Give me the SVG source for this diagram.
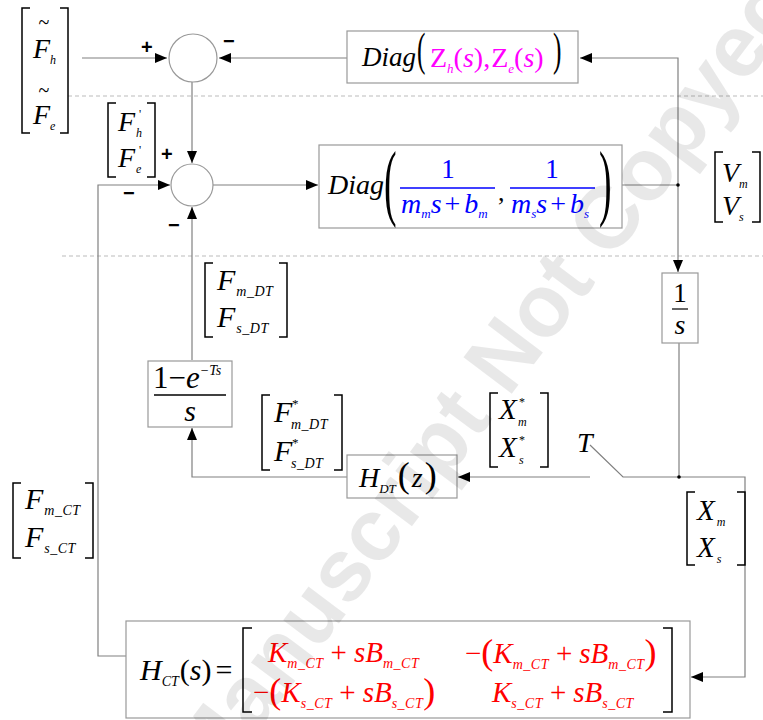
<svg xmlns="http://www.w3.org/2000/svg" width="763" height="720" viewBox="0 0 763 720">
<style>
.ln{stroke:#808080;stroke-width:1.2;fill:none}
.box{fill:none;stroke:#999;stroke-width:1.2}
.br{stroke:#000;stroke-width:1.5;fill:none}
.dash{stroke:#bbb;stroke-width:1.2;stroke-dasharray:4 3;fill:none}
.t{font-family:'Liberation Serif','Times New Roman','DejaVu Serif',serif;font-style:italic;fill:#000}
.u{font-style:normal}
.mg{fill:#ff00ff}
.bl{fill:#0000ff}
.rd{fill:#ff0000}
.sb{font-size:14px;letter-spacing:0.5px}
.sg{font-family:'Liberation Sans',sans-serif;font-weight:bold;font-size:20px;fill:#000}
.wm{font-family:'Liberation Sans',sans-serif;font-weight:bold;font-size:88px;fill:#000;fill-opacity:0.09}
</style>
<defs>
<marker id="ah" markerUnits="userSpaceOnUse" markerWidth="12" markerHeight="10" refX="12" refY="5" orient="auto">
<path d="M0,0 L12,5 L0,10 z" fill="#000"/>
</marker>
</defs>
<rect width="763" height="720" fill="#fff"/>

<g id="separators">
<line class="dash" x1="68" y1="96" x2="763" y2="96"/>
<line class="dash" x1="62" y1="256" x2="763" y2="256"/>
</g>

<g id="connectors">
<path class="ln" d="M82,58 H167" marker-end="url(#ah)"/>
<path class="ln" d="M347,58 H219" marker-end="url(#ah)"/>
<path class="ln" d="M678,185 V58 H580" marker-end="url(#ah)"/>
<path class="ln" d="M192,82 V163" marker-end="url(#ah)"/>
<path class="ln" d="M213,185 H318" marker-end="url(#ah)"/>
<path class="ln" d="M622,185 H678"/>
<path class="ln" d="M678,185 V272" marker-end="url(#ah)"/>
<path class="ln" d="M679,343 V477"/>
<path class="ln" d="M679,477 H623 L590,445"/>
<path class="ln" d="M590,477 H458" marker-end="url(#ah)"/>
<path class="ln" d="M679,477 H745 V677 H691" marker-end="url(#ah)"/>
<path class="ln" d="M347,477 H192 V428" marker-end="url(#ah)"/>
<path class="ln" d="M192,360 V207" marker-end="url(#ah)"/>
<path class="ln" d="M126,656 H98 V185 H170" marker-end="url(#ah)"/>
<circle cx="678" cy="185" r="1.8" fill="#000"/>
<circle cx="679" cy="477" r="1.8" fill="#000"/>
</g>

<g id="sum1">
<circle cx="193" cy="58" r="24" fill="#fff" stroke="#999" stroke-width="1.2"/>
<text class="sg" x="141" y="54">+</text>
<text class="sg" x="223" y="48">−</text>
</g>

<g id="sum2">
<circle cx="192" cy="185" r="21" fill="#fff" stroke="#999" stroke-width="1.2"/>
<text class="sg" x="161" y="161">+</text>
<text class="sg" x="123" y="200">−</text>
<text class="sg" x="168" y="232">−</text>
</g>

<g id="input-Ftilde">
<path class="br" d="M30,8 H22 V133 H30 M60,8 H68 V133 H60"/>
<text class="t u" x="44" y="29" font-size="20" text-anchor="middle">~</text>
<text class="t" x="33" y="58" font-size="28">F<tspan font-size="12" dy="6">h</tspan></text>
<text class="t u" x="44" y="97" font-size="20" text-anchor="middle">~</text>
<text class="t" x="33" y="124" font-size="28">F<tspan font-size="12" dy="6">e</tspan></text>
</g>

<g id="input-Fprime">
<path class="br" d="M116,103 H108 V177 H116 M147,103 H155 V177 H147"/>
<text class="t" x="118" y="131" font-size="28">F</text>
<text class="t u" x="139" y="118" font-size="12">'</text>
<text class="t" x="136" y="137" font-size="12">h</text>
<text class="t" x="118" y="167" font-size="28">F</text>
<text class="t u" x="139" y="154" font-size="12">'</text>
<text class="t" x="136" y="173" font-size="12">e</text>
</g>

<g id="diagZ">
<rect class="box" x="347" y="31" width="231" height="52"/>
<text class="t" x="362" y="66" font-size="27">Diag</text>
<text class="t u" x="417" y="65" font-size="46" transform="translate(417,0) scale(0.55,1) translate(-417,0)">(</text>
<text class="t mg" x="430" y="67" font-size="28"><tspan class="u">Z</tspan><tspan font-size="13" dy="6">h</tspan><tspan class="u" dy="-6">(</tspan>s<tspan class="u">),</tspan><tspan class="u" dx="1">Z</tspan><tspan font-size="13" dy="6">e</tspan><tspan class="u" dy="-6">(</tspan>s<tspan class="u">)</tspan></text>
<text class="t u" x="553" y="65" font-size="46" transform="translate(553,0) scale(0.55,1) translate(-553,0)">)</text>
</g>

<g id="diagM">
<rect class="box" x="319" y="145" width="303" height="83"/>
<text class="t" x="328" y="194" font-size="28">Diag</text>
<text class="t u" x="384" y="210" font-size="84" transform="translate(384,0) scale(0.45,1) translate(-384,0)">(</text>
<text class="t u bl" x="448" y="178" font-size="27" text-anchor="middle">1</text>
<line x1="400" y1="188" x2="495" y2="188" stroke="#0000ff" stroke-width="1.4"/>
<text class="t bl" x="401" y="213" font-size="28">m<tspan font-size="13" dy="5">m</tspan><tspan dy="-5">s</tspan><tspan class="u" dx="3">+</tspan><tspan dx="4">b</tspan><tspan font-size="13" dy="5">m</tspan></text>
<text class="t u" x="498" y="201" font-size="26">,</text>
<text class="t u bl" x="552" y="178" font-size="27" text-anchor="middle">1</text>
<line x1="510" y1="188" x2="595" y2="188" stroke="#0000ff" stroke-width="1.4"/>
<text class="t bl" x="511" y="213" font-size="28">m<tspan font-size="13" dy="5">s</tspan><tspan dy="-5">s</tspan><tspan class="u" dx="3">+</tspan><tspan dx="4">b</tspan><tspan font-size="13" dy="5">s</tspan></text>
<text class="t u" x="599" y="210" font-size="84" transform="translate(599,0) scale(0.45,1) translate(-599,0)">)</text>
</g>

<g id="V">
<path class="br" d="M723,152 H715 V222 H723 M752,152 H760 V222 H752"/>
<text class="t" x="722" y="182" font-size="28">V<tspan font-size="12" dy="6">m</tspan></text>
<text class="t" x="722" y="215" font-size="28">V<tspan font-size="12" dy="6">s</tspan></text>
</g>

<g id="integrator">
<rect class="box" x="662" y="273" width="36" height="70"/>
<text class="t u" x="680" y="302" font-size="27" text-anchor="middle">1</text>
<line x1="672" y1="309" x2="688" y2="309" stroke="#000" stroke-width="1.2"/>
<text class="t" x="680" y="334" font-size="28" text-anchor="middle">s</text>
</g>

<g id="FDT">
<path class="br" d="M213,263 H205 V337 H213 M279,263 H287 V337 H279"/>
<text class="t" x="217" y="290" font-size="30">F<tspan class="sb" dx="1" dy="6">m_DT</tspan></text>
<text class="t" x="217" y="327" font-size="30">F<tspan class="sb" dx="1" dy="6">s_DT</tspan></text>
</g>

<g id="hold">
<rect class="box" x="148" y="361" width="84" height="66"/>
<text class="t u" x="153" y="388" font-size="31">1−<tspan class="t">e</tspan><tspan class="t" font-size="14" dy="-13">−Ts</tspan></text>
<line x1="154" y1="395" x2="226" y2="395" stroke="#000" stroke-width="1.3"/>
<text class="t" x="190" y="421" font-size="30" text-anchor="middle">s</text>
</g>

<g id="FstarDT">
<path class="br" d="M270,395 H262 V470 H270 M334,395 H342 V470 H334"/>
<text class="t" x="274" y="422" font-size="30">F</text>
<text class="t u" x="292" y="408" font-size="13">*</text>
<text class="t sb" x="291" y="429">m_DT</text>
<text class="t" x="274" y="461" font-size="30">F</text>
<text class="t u" x="292" y="447" font-size="13">*</text>
<text class="t sb" x="291" y="468">s_DT</text>
</g>

<g id="HDT">
<rect class="box" x="347" y="455" width="110" height="43"/>
<text class="t" x="359" y="487" font-size="28">H<tspan font-size="13" dy="6">DT</tspan><tspan class="u" dx="2" dy="-6" font-size="36">(</tspan><tspan dx="2">z</tspan><tspan class="u" dx="2" font-size="36">)</tspan></text>
</g>

<g id="Xstar">
<path class="br" d="M498,393 H490 V467 H498 M540,393 H548 V467 H540"/>
<text class="t" x="499" y="419" font-size="29">X</text>
<text class="t u" x="519" y="406" font-size="12">*</text>
<text class="t" x="518" y="426" font-size="12">m</text>
<text class="t" x="499" y="457" font-size="29">X</text>
<text class="t u" x="519" y="444" font-size="12">*</text>
<text class="t" x="519" y="464" font-size="12">s</text>
</g>

<g id="switch">
<text class="t" x="577" y="452" font-size="28">T</text>
</g>

<g id="X">
<path class="br" d="M695,492 H687 V565 H695 M737,492 H745 V565 H737"/>
<text class="t" x="697" y="520" font-size="29">X<tspan font-size="12" dx="2" dy="6">m</tspan></text>
<text class="t" x="697" y="557" font-size="29">X<tspan font-size="12" dx="2" dy="6">s</tspan></text>
</g>

<g id="FCT">
<path class="br" d="M21,483 H13 V558 H21 M85,483 H93 V558 H85"/>
<text class="t" x="25" y="509" font-size="30">F<tspan class="sb" dx="1" dy="6">m_CT</tspan></text>
<text class="t" x="25" y="547" font-size="30">F<tspan class="sb" dx="1" dy="6">s_CT</tspan></text>
</g>

<g id="HCT">
<rect class="box" x="126" y="621" width="564" height="97"/>
<text class="t" x="140" y="680" font-size="30">H<tspan font-size="14" dy="6">CT</tspan><tspan class="u" dx="1" dy="-6">(</tspan>s<tspan class="u">)</tspan><tspan class="u" dx="4">=</tspan></text>
<path class="br" d="M252,628 H243 V712 H252 M663,628 H672 V712 H663"/>
<text class="t rd" x="268" y="662" font-size="29">K<tspan class="sb" dy="6">m_CT</tspan><tspan class="u" dx="7" dy="-6">+</tspan><tspan dx="7">sB</tspan><tspan class="sb" dy="6">m_CT</tspan></text>
<text class="t rd" x="465" y="663" font-size="29"><tspan class="u">−</tspan><tspan class="u" font-size="36" dy="1">(</tspan><tspan dy="-1">K</tspan><tspan class="sb" dy="6">m_CT</tspan><tspan class="u" dx="7" dy="-6">+</tspan><tspan dx="7">sB</tspan><tspan class="sb" dy="6">m_CT</tspan><tspan class="u" font-size="36" dy="-5">)</tspan></text>
<text class="t rd" x="253" y="702" font-size="29"><tspan class="u">−</tspan><tspan class="u" font-size="36" dy="1">(</tspan><tspan dy="-1">K</tspan><tspan class="sb" dy="6">s_CT</tspan><tspan class="u" dx="7" dy="-6">+</tspan><tspan dx="7">sB</tspan><tspan class="sb" dy="6">s_CT</tspan><tspan class="u" font-size="36" dy="-5">)</tspan></text>
<text class="t rd" x="492" y="702" font-size="29">K<tspan class="sb" dy="6">s_CT</tspan><tspan class="u" dx="7" dy="-6">+</tspan><tspan dx="7">sB</tspan><tspan class="sb" dy="6">s_CT</tspan></text>
</g>

<g id="watermark">
<text class="wm" transform="translate(211,793) rotate(-53)">Manuscript Not Copyedited</text>
</g>
</svg>
